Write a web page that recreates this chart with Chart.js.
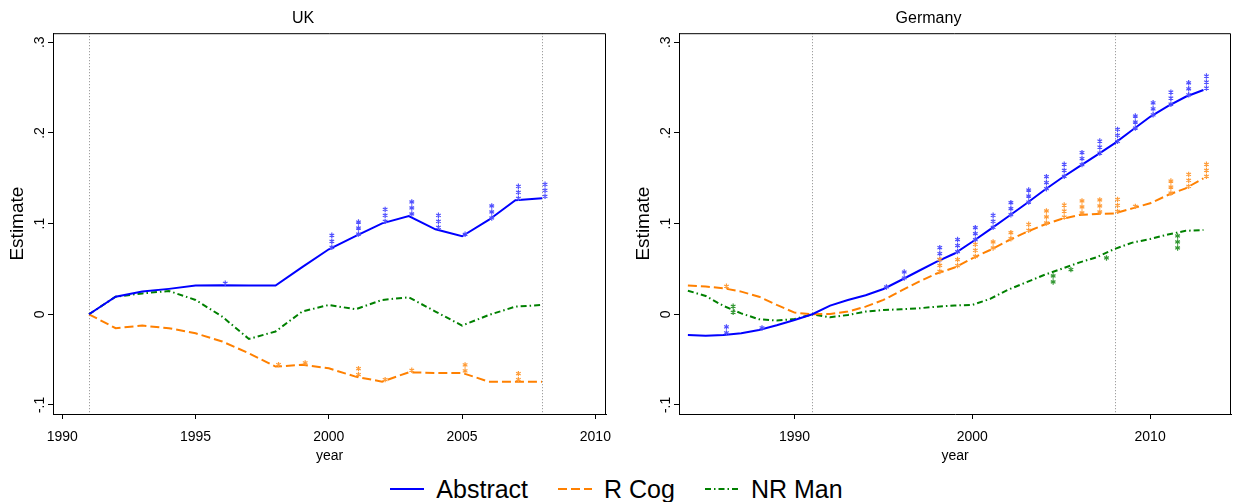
<!DOCTYPE html>
<html>
<head>
<meta charset="utf-8">
<script src="https://cdn.jsdelivr.net/npm/chart.js@4.4.1/dist/chart.umd.min.js"></script>
<style>
  body { margin: 0; background: #fff; width: 1233px; height: 502px; position: relative; overflow: hidden;
         font-family: "Liberation Sans", Arial, sans-serif; }
  #uk { position: absolute; left: 0; top: 0; }
  #de { position: absolute; left: 626px; top: 0; }
  #legend { position: absolute; left: 0; top: 474px; width: 1233px; height: 30px;
            display: flex; justify-content: center; align-items: center; font-size: 25px; color: #000; }
  #legend .item { display: flex; align-items: center; margin: 0 15px; }
  #legend svg { margin-right: 12px; }
</style>
</head>
<body>
<canvas id="uk" width="616" height="465"></canvas>
<canvas id="de" width="607" height="465"></canvas>
<div id="legend"></div>
<script>
/* ---- data ---- */
const seriesNames = ['Abstract', 'R Cog', 'NR Man'];
const yTicks = [-0.1, 0, 0.1, 0.2, 0.3];
const yTickLabels = ['-.1', '0', '.1', '.2', '.3'];
const refYears = [1991, 2008];

// UK
const ukYears = [1991, 1992, 1993, 1994, 1995, 1996, 1997, 1998, 1999, 2000,
                 2001, 2002, 2003, 2004, 2005, 2006, 2007, 2008];
const ukAbstract = [0, 0.0194, 0.025, 0.028, 0.0316, 0.032, 0.0316, 0.0316, 0.052, 0.0717,
                    0.0863, 0.1003, 0.1084, 0.0937, 0.086, 0.104, 0.1257, 0.1279];
const ukRCog = [0, -0.0154, -0.0125, -0.0154, -0.021, -0.030, -0.043, -0.0577, -0.0558, -0.0596,
                -0.0688, -0.0743, -0.064, -0.0647, -0.0647, -0.0743, -0.0743, -0.0743];
const ukNRMan = [0, 0.0194, 0.023, 0.0257, 0.0158, -0.0026, -0.0272, -0.019, 0.003, 0.0103,
                 0.0055, 0.0158, 0.0187, 0.003, -0.0125, -0.0008, 0.0084, 0.0103];
const ukAbstractStars = [0, 0, 0, 0, 0, 1, 0, 0, 0, 3, 3, 3, 3, 3, 1, 3, 3, 3];
const ukRCogStars = [0, 0, 0, 0, 0, 0, 0, 1, 1, 0, 2, 1, 1, 0, 2, 0, 2, 0];
const ukXTicks = [1990, 1995, 2000, 2005, 2010];

// Germany
const deYears = [1984, 1985, 1986, 1987, 1988, 1989, 1990, 1991, 1992, 1993,
                 1994, 1995, 1996, 1997, 1998, 1999, 2000, 2001, 2002, 2003,
                 2004, 2005, 2006, 2007, 2008, 2009, 2010, 2011, 2012, 2013];
const deAbstract = [-0.0228, -0.0236, -0.0228, -0.021, -0.0173, -0.0121, -0.0063, 0, 0.0095, 0.0158,
                    0.021, 0.0279, 0.0378, 0.048, 0.058, 0.067, 0.080, 0.0937, 0.1076, 0.1216,
                    0.1363, 0.15, 0.1628, 0.1756, 0.1885, 0.2032, 0.2178, 0.2295, 0.2399, 0.2473];
const deRCog = [0.0316, 0.0305, 0.0287, 0.025, 0.0194, 0.0103, 0.0018, 0, 0.0003, 0.003,
                0.0084, 0.0158, 0.026, 0.036, 0.045, 0.0515, 0.0617, 0.0709, 0.0811, 0.0904,
                0.0985, 0.105, 0.1095, 0.1106, 0.1113, 0.1168, 0.1224, 0.1315, 0.1389, 0.15];
const deNRMan = [0.026, 0.0202, 0.0092, 0.001, -0.0055, -0.007, -0.0052, 0, -0.0033, -0.0008,
                 0.003, 0.0047, 0.0055, 0.0066, 0.0084, 0.0097, 0.0103, 0.017, 0.027, 0.035,
                 0.043, 0.05, 0.057, 0.063, 0.072, 0.079, 0.083, 0.088, 0.092, 0.093];
const deAbstractStars = [0, 0, 2, 0, 1, 0, 0, 0, 0, 0, 0, 1, 2, 0, 3, 3, 3, 3, 3, 3,
                         3, 3, 3, 3, 3, 3, 3, 3, 3, 3];
const deRCogStars = [0, 0, 1, 0, 0, 0, 0, 0, 0, 0, 0, 0, 0, 0, 3, 2, 3, 2, 2, 2,
                     3, 3, 3, 3, 3, 1, 0, 3, 3, 3];
// NR Man point estimates (stars sit away from the smoothed line)
const deNRManStarYears = [1986, 2004, 2005, 2007, 2011];
const deNRManStarValues = [0.0, 0.0334, 0.047, 0.0599, 0.0709];
const deNRManStarCounts = [2, 2, 1, 1, 3];
const deXTicks = [1990, 2000, 2010];

/* ---- styles ---- */
const lineColors = ['#0000ff', '#ff8000', '#008000'];
const starColors = ['#5050ff', '#ff9c38', '#349834'];
const lineDash = [[], [9, 4], [6, 3, 1.5, 3]];
const FONT = '"Liberation Sans", Arial, sans-serif';

function drawStar(ctx, x, y, r) {
  ctx.beginPath();
  for (let k = 0; k < 3; k++) {
    const a = Math.PI / 2 + k * Math.PI / 3;
    ctx.moveTo(x - r * Math.cos(a), y - r * Math.sin(a));
    ctx.lineTo(x + r * Math.cos(a), y + r * Math.sin(a));
  }
  ctx.stroke();
}

const panelMarks = {
  id: 'panelMarks',
  beforeDatasetsDraw(chart, args, opts) {
    const { ctx, chartArea: a, scales: { x } } = chart;
    ctx.save();
    ctx.strokeStyle = opts.refColor;
    ctx.lineWidth = 1;
    ctx.setLineDash([1, 2]);
    opts.refYears.forEach(yr => {
      const px = Math.round(x.getPixelForValue(yr)) + 0.5;
      ctx.beginPath();
      ctx.moveTo(px, a.top);
      ctx.lineTo(px, a.bottom);
      ctx.stroke();
    });
    ctx.restore();
  },
  afterDatasetsDraw(chart, args, opts) {
    const { ctx, scales: { x, y } } = chart;
    ctx.save();
    ctx.lineWidth = 1.2;
    opts.stars.forEach(s => {
      ctx.strokeStyle = s.color;
      s.years.forEach((yr, i) => {
        const n = s.counts[i];
        if (!n) return;
        const px = x.getPixelForValue(yr) + s.dx;
        const py = y.getPixelForValue(s.values[i]) - 2;
        for (let k = 0; k < n; k++) drawStar(ctx, px, py - k * 6, 2.7);
      });
    });
    ctx.restore();
  },
  afterDraw(chart) {
    const { ctx, chartArea: a, scales: { y } } = chart;
    ctx.save();
    ctx.strokeStyle = '#000';
    ctx.lineWidth = 1;
    ctx.beginPath();
    ctx.moveTo(a.left, a.top + 0.5);
    ctx.lineTo(a.right - 0.5, a.top + 0.5);
    ctx.lineTo(a.right - 0.5, a.bottom);
    ctx.stroke();
    // rotated y tick labels
    ctx.fillStyle = '#000';
    ctx.font = '14px ' + FONT;
    ctx.textAlign = 'center';
    ctx.textBaseline = 'alphabetic';
    yTicks.forEach((v, i) => {
      ctx.save();
      ctx.translate(a.left - 9, y.getPixelForValue(v));
      ctx.rotate(-Math.PI / 2);
      ctx.fillText(yTickLabels[i], 0, 0);
      ctx.restore();
    });
    ctx.restore();
  }
};

function makePanel(id, title, years, values, xMin, xMax, xTicks, padRight, stars) {
  return new Chart(document.getElementById(id), {
    type: 'line',
    data: {
      datasets: values.map((vals, i) => ({
        label: seriesNames[i],
        data: years.map((yr, j) => ({ x: yr, y: vals[j] })),
        borderColor: lineColors[i],
        borderDash: lineDash[i],
        borderWidth: 2,
        pointRadius: 0,
        fill: false,
        tension: 0
      }))
    },
    options: {
      responsive: false,
      animation: false,
      layout: { padding: { left: 0, right: padRight, top: 0, bottom: 0 } },
      plugins: {
        legend: { display: false },
        tooltip: { enabled: false },
        title: {
          display: true, text: title, color: '#000',
          font: { family: FONT, size: 16, weight: 'normal' },
          padding: { top: 9, bottom: 5 }
        },
        panelMarks: { refYears, refColor: '#8a8a8a', stars }
      },
      scales: {
        x: {
          type: 'linear', min: xMin, max: xMax,
          afterBuildTicks: s => { s.ticks = xTicks.map(v => ({ value: v })); },
          afterFit: s => { s.height = 51; s.paddingLeft = 0; s.paddingRight = 0; },
          grid: { display: true, drawOnChartArea: false, drawTicks: true, tickLength: 5, color: '#000' },
          border: { display: true, color: '#000', width: 1 },
          ticks: { color: '#000', font: { family: FONT, size: 14 }, padding: 10, maxRotation: 0,
                   callback: v => String(v) },
          title: { display: true, text: 'year', color: '#000',
                   font: { family: FONT, size: 14 }, padding: { top: 3, bottom: 0 } }
        },
        y: {
          min: -0.11, max: 0.31,
          afterBuildTicks: s => { s.ticks = yTicks.map(v => ({ value: v })); },
          afterFit: s => { s.width = 53; },
          grid: { display: true, drawOnChartArea: false, drawTicks: true, tickLength: 5, color: '#000' },
          border: { display: true, color: '#000', width: 1 },
          ticks: { display: false },
          title: { display: true, text: 'Estimate', color: '#000',
                   font: { family: FONT, size: 19 }, padding: { top: 6, bottom: 0 } }
        }
      }
    },
    plugins: [panelMarks]
  });
}

makePanel('uk', 'UK', ukYears, [ukAbstract, ukRCog, ukNRMan], 1989.65, 2010.4, ukXTicks, 10, [
  { years: ukYears, values: ukAbstract, counts: ukAbstractStars, color: starColors[0], dx: 3 },
  { years: ukYears, values: ukRCog, counts: ukRCogStars, color: starColors[1], dx: 3 }
]);

makePanel('de', 'Germany', deYears, [deAbstract, deRCog, deNRMan], 1983.5, 2014.55, deXTicks, 2, [
  { years: deYears, values: deAbstract, counts: deAbstractStars, color: starColors[0], dx: 3 },
  { years: deYears, values: deRCog, counts: deRCogStars, color: starColors[1], dx: 3 },
  { years: deNRManStarYears, values: deNRManStarValues, counts: deNRManStarCounts, color: starColors[2], dx: 9.7 }
]);

/* ---- shared legend ---- */
const legend = document.getElementById('legend');
seriesNames.forEach((name, i) => {
  const item = document.createElement('span');
  item.className = 'item';
  const dash = lineDash[i].length ? ` stroke-dasharray="${lineDash[i].join(' ')}"` : '';
  item.innerHTML = `<svg width="34" height="6"><line x1="0" y1="3" x2="34" y2="3" stroke="${lineColors[i]}" stroke-width="2"${dash}/></svg><span>${name}</span>`;
  legend.appendChild(item);
});
</script>
</body>
</html>
